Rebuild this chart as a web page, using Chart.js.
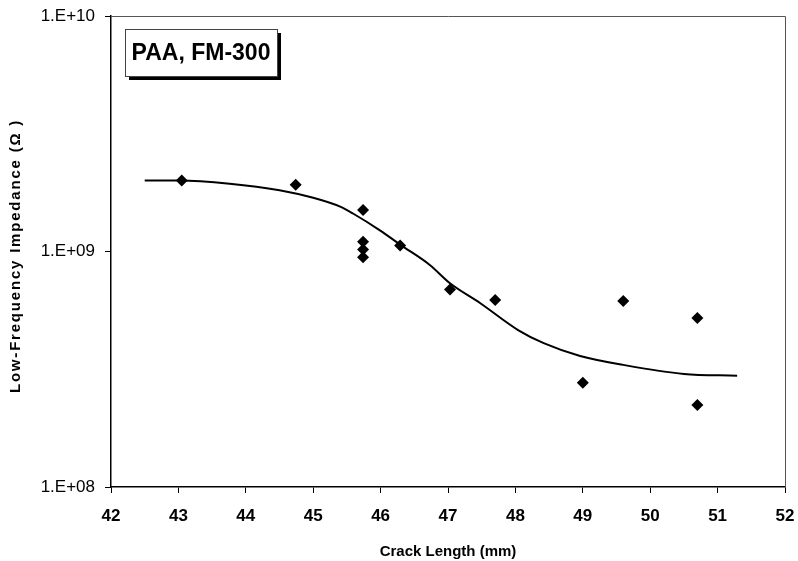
<!doctype html>
<html lang="en">

<head>
    <meta charset="utf-8">
    <title>Low-Frequency Impedance vs Crack Length</title>
    <script src="https://cdn.jsdelivr.net/npm/chart.js@4.4.0/dist/chart.umd.min.js"></script>
    <style>
        html, body { margin: 0; padding: 0; background: #fff; }
        #wrap { width: 798px; height: 561px; }
    </style>
</head>

<body>
    <div id="wrap"><canvas id="myChart" width="798" height="561"></canvas></div>

    <script>
        // measured points: crack length (mm) and impedance (ohm)
        const crackLength = [43.05, 44.74, 45.74, 45.74, 45.74, 45.74, 46.29, 47.03, 47.7, 49.0, 49.6, 50.7, 50.7];
        const impedance = [2.0e9, 1.92e9, 1.50e9, 1.10e9, 1.02e9, 0.945e9, 1.06e9, 6.9e8, 6.22e8, 2.77e8, 6.16e8, 5.22e8, 2.23e8];

        // fitted trend line
        const fitLength = [42.5, 43.0, 43.76, 44.5, 45.0, 45.4, 45.59, 45.99, 46.29, 46.73, 47.03, 47.48, 48.04, 48.42, 48.96, 49.6, 50.5, 51.29];
        const fitImpedance = [2.0e9, 2.0e9, 1.94e9, 1.82e9, 1.69e9, 1.55e9, 1.45e9, 1.23e9, 1.07e9, 8.77e8, 7.33e8, 6.03e8, 4.64e8, 4.08e8, 3.6e8, 3.3e8, 3.02e8, 2.97e8];

        const yTicks = [1e8, 1e9, 1e10];
        const xTicks = [42, 43, 44, 45, 46, 47, 48, 49, 50, 51, 52];

        const yTitle = "Low-Frequency Impedance (Ω )";
        const boxLabel = "PAA, FM-300";

        const FONT = "'Liberation Sans', Arial, sans-serif";

        function expLabel(v) {
            const e = Math.round(Math.log10(v));
            return "1.E+" + String(e).padStart(2, "0");
        }

        // plot frame, y title and the boxed label in the upper left
        const framePlugin = {
            id: "frame",
            afterDraw(chart) {
                const { ctx, chartArea: a } = chart;
                ctx.save();
                ctx.strokeStyle = "#555";
                ctx.lineWidth = 1;
                ctx.beginPath();
                ctx.moveTo(a.left, a.top + 0.5);
                ctx.lineTo(a.right + 0.5, a.top + 0.5);
                ctx.lineTo(a.right + 0.5, a.bottom);
                ctx.stroke();

                // rotated y title, spaced out a little
                ctx.save();
                ctx.translate(16, 256);
                ctx.rotate(-Math.PI / 2);
                ctx.fillStyle = "#000";
                ctx.font = "bold 15px " + FONT;
                ctx.letterSpacing = "1.8px";
                ctx.textAlign = "center";
                ctx.textBaseline = "middle";
                ctx.fillText(yTitle, 0, 0);
                ctx.restore();

                // label box with drop shadow
                const bx = 125, by = 29, bw = 152, bh = 47;
                ctx.fillStyle = "#000";
                ctx.fillRect(bx + 4, by + 4, bw, bh);
                ctx.fillStyle = "#fff";
                ctx.fillRect(bx, by, bw, bh);
                ctx.strokeStyle = "#444";
                ctx.strokeRect(bx + 0.5, by + 0.5, bw, bh);
                ctx.fillStyle = "#000";
                ctx.font = "bold 23px " + FONT;
                ctx.textAlign = "center";
                ctx.textBaseline = "middle";
                ctx.fillText(boxLabel, bx + bw / 2, by + bh / 2 + 1);
                ctx.restore();
            }
        };

        const config = {
            type: "scatter",
            data: {
                datasets: [
                    {
                        label: "Measured",
                        data: crackLength.map((x, i) => ({ x: x, y: impedance[i] })),
                        pointStyle: "rectRot",
                        pointRadius: 6,
                        backgroundColor: "#000",
                        borderColor: "#000",
                        borderWidth: 0,
                        order: 0,
                    },
                    {
                        label: "Fit",
                        type: "line",
                        data: fitLength.map((x, i) => ({ x: x, y: fitImpedance[i] })),
                        borderColor: "#000",
                        borderWidth: 2,
                        pointRadius: 0,
                        fill: false,
                        cubicInterpolationMode: "monotone",
                        order: 1,
                    }
                ]
            },
            options: {
                responsive: false,
                animation: false,
                layout: { padding: { left: 0, top: 16, right: 13, bottom: 0 } },
                plugins: {
                    legend: { display: false },
                    tooltip: { enabled: false },
                },
                scales: {
                    x: {
                        type: "linear",
                        min: 42,
                        max: 52,
                        afterBuildTicks: axis => { axis.ticks = xTicks.map(v => ({ value: v })); },
                        afterFit: axis => {
                            axis.height = 74;
                            axis.paddingLeft = 0;
                            axis.paddingRight = 0;
                        },
                        grid: { display: true, drawOnChartArea: false, drawTicks: true, tickLength: 6, color: "#000" },
                        border: { display: true, color: "#000", width: 1.5 },
                        ticks: {
                            color: "#000",
                            padding: 13,
                            maxRotation: 0,
                            font: { family: FONT, size: 17, weight: "bold" },
                        },
                        title: {
                            display: true,
                            text: "Crack Length (mm)",
                            color: "#000",
                            font: { family: FONT, size: 15, weight: "bold" },
                            padding: { top: 10, bottom: 0 },
                        }
                    },
                    y: {
                        type: "logarithmic",
                        min: 1e8,
                        max: 1e10,
                        afterBuildTicks: axis => { axis.ticks = yTicks.map(v => ({ value: v })); },
                        afterFit: axis => {
                            axis.width = 111;
                            axis.paddingTop = 0;
                            axis.paddingBottom = 0;
                        },
                        grid: { display: true, drawOnChartArea: false, drawTicks: true, tickLength: 6, color: "#000" },
                        border: { display: true, color: "#000", width: 1.5 },
                        ticks: {
                            color: "#000",
                            padding: 10,
                            font: { family: FONT, size: 17 },
                            callback: v => expLabel(v),
                        },
                        title: { display: false }
                    }
                }
            },
            plugins: [framePlugin]
        };

        new Chart(document.getElementById("myChart"), config);
    </script>
</body>

</html>
